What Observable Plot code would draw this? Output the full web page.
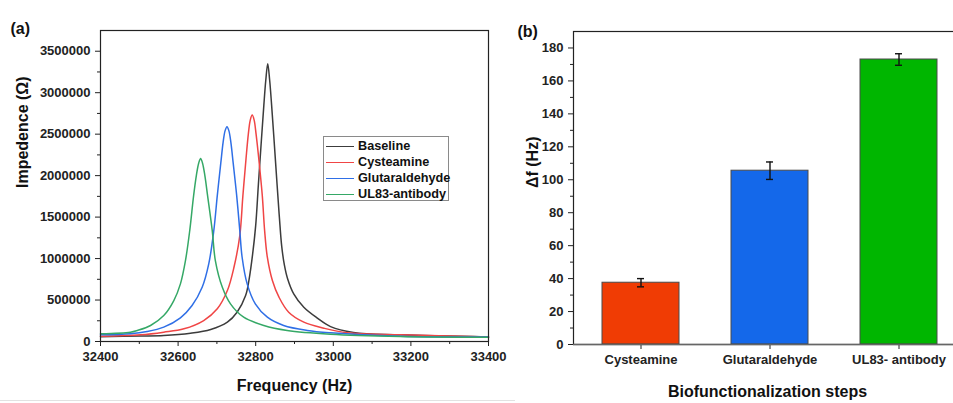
<!DOCTYPE html>
<html>
<head>
<meta charset="utf-8">
<script src="https://cdn.jsdelivr.net/npm/d3@7"></script>
<script src="https://cdn.jsdelivr.net/npm/@observablehq/plot@0.6"></script>
<style>
  html, body { margin: 0; padding: 0; background: #fff; }
  #wrap { position: relative; width: 953px; height: 403px; overflow: hidden; background: #fff;
          font-family: 'Liberation Sans', Arial, sans-serif; font-weight: bold; color: #111; }
  #wrap svg { position: absolute; top: 0; }
  #legend { position: absolute; left: 323px; top: 136px; width: 126px; height: 65px;
            border: 1px solid #8a8a8a; background: #fff; box-sizing: border-box; }
  .lg-row { position: absolute; left: 2px; height: 16px; display: flex; align-items: center; font-size: 12.7px; white-space: nowrap; }
  .lg-sw { width: 28px; height: 0; border-top: 1.6px solid; margin-right: 4px; }
  #sep { position: absolute; left: 0; top: 400px; width: 515px; height: 1px; background: #e2e2e2; }
</style>
</head>
<body>
<div id="wrap"></div>
<script>
// ---------- Panel (a): impedance spectra ----------
const seriesNames = ["Baseline", "Cysteamine", "Glutaraldehyde", "UL83-antibody"];
const lineColors = ["#3c3c3c", "#f04545", "#2f6fe6", "#35a866"];

const freqBaseline = [32400, 32503, 32563, 32632, 32684, 32727, 32752, 32774, 32783, 32792, 32800, 32807, 32815, 32821, 32826, 32831, 32836, 32841, 32847, 32855, 32861, 32867, 32874, 32882, 32898, 32924, 32958, 32993, 33052, 33173, 33400];
const impBaseline  = [58000, 66000, 72000, 100000, 145000, 233000, 353000, 554000, 750000, 1050000, 1400000, 1900000, 2450000, 2850000, 3150000, 3350000, 3150000, 2850000, 2450000, 1900000, 1500000, 1150000, 920000, 760000, 574000, 413000, 285000, 180000, 110000, 80000, 55000];

const freqCysteamine = [32400, 32503, 32563, 32615, 32666, 32701, 32727, 32744, 32759, 32767, 32775, 32781, 32786, 32791, 32796, 32801, 32808, 32817, 32823, 32830, 32843, 32860, 32885, 32924, 32976, 33036, 33173, 33400];
const impCysteamine  = [62000, 80000, 112000, 153000, 253000, 394000, 614000, 895000, 1277000, 1759000, 2200000, 2500000, 2670000, 2730000, 2670000, 2500000, 2200000, 1759000, 1337000, 1016000, 735000, 534000, 353000, 233000, 160000, 105000, 80000, 55000];

const freqGlutaraldehyde = [32400, 32477, 32520, 32563, 32606, 32636, 32662, 32679, 32692, 32701, 32710, 32716, 32721, 32726, 32731, 32736, 32742, 32751, 32759, 32765, 32778, 32799, 32830, 32872, 32933, 32993, 33173, 33400];
const impGlutaraldehyde  = [80000, 93000, 120000, 173000, 285000, 434000, 654000, 936000, 1337000, 1759000, 2150000, 2400000, 2540000, 2590000, 2540000, 2400000, 2150000, 1759000, 1337000, 1016000, 695000, 454000, 293000, 193000, 133000, 105000, 64000, 55000];

const freqUL83 = [32400, 32477, 32495, 32529, 32563, 32589, 32606, 32619, 32630, 32640, 32647, 32653, 32658, 32663, 32669, 32676, 32688, 32696, 32714, 32735, 32769, 32821, 32881, 32993, 33173, 33400];
const impUL83  = [93000, 112000, 133000, 193000, 313000, 494000, 695000, 976000, 1337000, 1759000, 2000000, 2150000, 2208000, 2150000, 2000000, 1759000, 1337000, 976000, 654000, 454000, 293000, 193000, 133000, 88000, 60000, 50000];

const xTicksA = [32400, 32600, 32800, 33000, 33200, 33400];
const xMinorA = [32500, 32700, 32900, 33100, 33300];
const yTicksA = [0, 500000, 1000000, 1500000, 2000000, 2500000, 3000000, 3500000];
const yMinorA = [250000, 750000, 1250000, 1750000, 2250000, 2750000, 3250000];

// ---------- Panel (b): frequency shifts ----------
const steps = ["Cysteamine", "Glutaraldehyde", "UL83- antibody"];
const shifts = [37.5, 105.5, 173];
const shiftErr = [2.5, 5.3, 3.5];
const barColors = ["#f03c04", "#1468ea", "#00b600"];
const yTicksB = [0, 20, 40, 60, 80, 100, 120, 140, 160, 180];
const yMinorB = [10, 30, 50, 70, 90, 110, 130, 150, 170];

const font = "'Liberation Sans', Arial, sans-serif";
const axisColor = "#222";

const freqs = [freqBaseline, freqCysteamine, freqGlutaraldehyde, freqUL83];
const imps = [impBaseline, impCysteamine, impGlutaraldehyde, impUL83];
const lineRows = seriesNames.map((s, k) => freqs[k].map((f, i) => ({s, f, v: imps[k][i]})));

const plotA = Plot.plot({
  width: 500, height: 403,
  marginLeft: 100, marginRight: 12, marginTop: 30, marginBottom: 62,
  style: {fontFamily: font, fontSize: "13px", fontWeight: "bold", color: axisColor, background: "transparent", overflow: "visible"},
  x: {domain: [32400, 33400]},
  y: {domain: [0, 3750000]},
  marks: [
    Plot.axisY({ticks: yTicksA, tickSize: 5, tickPadding: 5, tickFormat: d => String(d), label: null}),
    Plot.axisY({ticks: yMinorA, tickSize: 3, fill: "none", label: null}),
    Plot.axisX({ticks: xTicksA, tickSize: 5, tickPadding: 5, tickFormat: d => String(d), label: null}),
    Plot.axisX({ticks: xMinorA, tickSize: 3, fill: "none", label: null}),
    ...lineRows.map((rows, k) => Plot.line(rows, {x: "f", y: "v", stroke: lineColors[k], strokeWidth: 1.5, curve: "catmull-rom"})),
    Plot.frame({stroke: axisColor, strokeWidth: 1.2}),
    Plot.text(["Impedence (Ω)"], {frameAnchor: "left", rotate: -90, dx: -78, dy: 2, fontSize: 16, fontWeight: "bold", fill: "#111"}),
    Plot.text(["Frequency (Hz)"], {frameAnchor: "bottom", dy: 49, fontSize: 16, fontWeight: "bold", fill: "#111"}),
    Plot.text(["(a)"], {frameAnchor: "top-left", textAnchor: "start", dx: -90, dy: -8, fontSize: 16, fontWeight: "bold", fill: "#111"})
  ]
});
plotA.style.left = "0px";

const barRows = steps.map((c, i) => ({c, v: shifts[i], lo: shifts[i] - shiftErr[i], hi: shifts[i] + shiftErr[i], col: barColors[i]}));

const plotB = Plot.plot({
  width: 470, height: 403,
  marginLeft: 73, marginRight: 5, marginTop: 31, marginBottom: 59,
  style: {fontFamily: font, fontSize: "13px", fontWeight: "bold", color: axisColor, background: "transparent", overflow: "visible"},
  x: {type: "band", domain: steps, paddingInner: 0.404, paddingOuter: 0.21},
  y: {domain: [0, 190]},
  marks: [
    Plot.barY(barRows, {x: "c", y: "v", fill: "col", stroke: "#4a4a4a", strokeWidth: 1}),
    Plot.ruleX(barRows, {x: "c", y1: "lo", y2: "hi", stroke: "#111", strokeWidth: 1.4}),
    Plot.tickY(barRows, {x: "c", y: "hi", insetLeft: 35, insetRight: 35, stroke: "#111", strokeWidth: 1.4}),
    Plot.tickY(barRows, {x: "c", y: "lo", insetLeft: 35, insetRight: 35, stroke: "#111", strokeWidth: 1.4}),
    Plot.axisY({ticks: yTicksB, tickSize: 5, tickPadding: 5, label: null}),
    Plot.axisY({ticks: yMinorB, tickSize: 3, fill: "none", label: null}),
    Plot.axisX({tickSize: 5, tickPadding: 5, label: null}),
    Plot.frame({stroke: axisColor, strokeWidth: 1.2}),
    Plot.ruleY([0], {stroke: "#666", strokeWidth: 1.6}),
    Plot.text(["Δf (Hz)"], {frameAnchor: "left", rotate: -90, dx: -41, fontSize: 16, fontWeight: "bold", fill: "#111"}),
    Plot.text(["Biofunctionalization steps"], {frameAnchor: "bottom", dx: -2, dy: 52, fontSize: 16, fontWeight: "bold", fill: "#111"}),
    Plot.text(["(b)"], {frameAnchor: "top-left", textAnchor: "start", dx: -56, dy: -6, fontSize: 16, fontWeight: "bold", fill: "#111"})
  ]
});
plotB.style.left = "500px";

const wrap = document.getElementById("wrap");
wrap.appendChild(plotA);
wrap.appendChild(plotB);

// legend for panel (a)
const legend = document.createElement("div");
legend.id = "legend";
seriesNames.forEach((s, k) => {
  const row = document.createElement("div");
  row.className = "lg-row";
  row.style.top = (1 + 16 * k) + "px";
  const sw = document.createElement("div");
  sw.className = "lg-sw";
  sw.style.borderTopColor = lineColors[k];
  const tx = document.createElement("span");
  tx.textContent = s;
  row.appendChild(sw);
  row.appendChild(tx);
  legend.appendChild(row);
});
wrap.appendChild(legend);

const sep = document.createElement("div");
sep.id = "sep";
wrap.appendChild(sep);
</script>
</body>
</html>
